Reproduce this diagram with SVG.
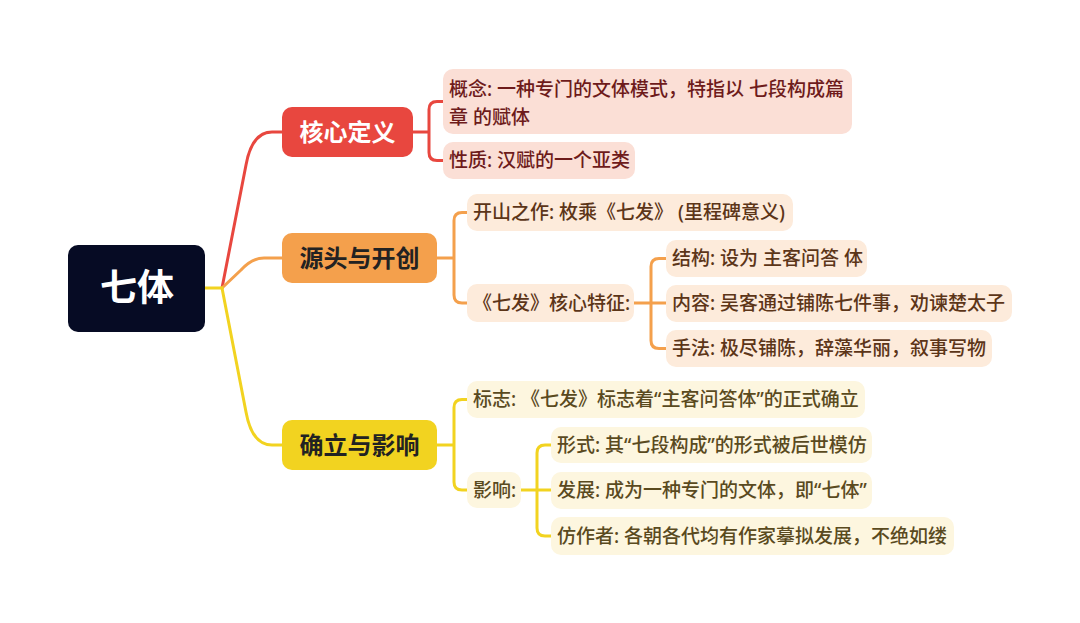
<svg xmlns="http://www.w3.org/2000/svg" width="1080" height="623" viewBox="0 0 1080 623">
<style>
text{font-family:"Noto Sans","Noto Sans CJK SC",sans-serif;}
.c{fill:none;stroke-width:3;stroke-linecap:round;stroke-linejoin:round;}
.cr{stroke:#E8473F;} .co{stroke:#F4A04C;} .cy{stroke:#F2D320;}
.main{font-size:24px;font-weight:bold;text-anchor:middle;}
.t{font-size:19px;font-weight:500;}
.br{fill:#FBDFD6;} .bo{fill:#FDEBDB;} .by{fill:#FDF6DF;}
.tr{fill:#6E1B1B;} .to{fill:#5C3518;} .ty{fill:#5A4A1E;}
</style>
<rect width="1080" height="623" fill="#FFFFFF"/>
<g id="connectors">
  <path class="c cr" d="M222,288 L246,165 Q252,132 272,132 L282,132"/>
  <path class="c co" d="M222,288 L241,270 Q252,258 264,258 L282,258"/>
  <path class="c cy" d="M222,288 L246,412 Q252,445 272,445 L282,445"/>
  <path class="c cy" d="M205,288 L222,288"/>
  <path class="c cr" d="M413,132 H429 M443,101.5 H437 Q429,101.5 429,109.5 V152.5 Q429,160.5 437,160.5 H443"/>
  <path class="c co" d="M437,258 H454 M467,212.5 H462 Q454,212.5 454,220.5 V295 Q454,303 462,303 H467"/>
  <path class="c co" d="M634,303 H666 M666,258.5 H659 Q651,258.5 651,266.5 V340.5 Q651,348.5 659,348.5 H666"/>
  <path class="c cy" d="M437,445 H454 M467,399.5 H462 Q454,399.5 454,407.5 V482 Q454,490 462,490 H467"/>
  <path class="c cy" d="M521,490 H551 M551,445 H545 Q537,445 537,453 V528 Q537,536 545,536 H551"/>
</g>
<g id="root">
  <rect x="68" y="245" width="137" height="87" rx="10" fill="#060B24"/>
  <text x="137" y="301" font-size="37" font-weight="bold" fill="#FFFFFF" text-anchor="middle">七体</text>
</g>
<g id="n-core">
  <rect x="282" y="107" width="131" height="50" rx="10" fill="#E8473F"/>
  <text class="main" x="347.5" y="141" fill="#FFFFFF">核心定义</text>
</g>
<g id="n-origin">
  <rect x="282" y="233" width="155" height="50" rx="10" fill="#F4A04C"/>
  <text class="main" x="359.5" y="267" fill="#222222">源头与开创</text>
</g>
<g id="n-establish">
  <rect x="282" y="420" width="155" height="50" rx="10" fill="#F2D320"/>
  <text class="main" x="359.5" y="454" fill="#222222">确立与影响</text>
</g>
<g id="n-concept">
  <rect class="br" x="443" y="69" width="409" height="65" rx="10"/>
  <text class="t tr" x="449" y="96">概念: 一种专门的文体模式，特指以 七段构成篇</text>
  <text class="t tr" x="449" y="124">章 的赋体</text>
</g>
<g id="n-nature">
  <rect class="br" x="443" y="142" width="192" height="37" rx="10"/>
  <text class="t tr" x="449" y="167">性质: 汉赋的一个亚类</text>
</g>
<g id="n-first">
  <rect class="bo" x="467" y="194" width="326" height="37" rx="10"/>
  <text class="t to" x="473" y="219">开山之作: 枚乘《七发》 (里程碑意义)</text>
</g>
<g id="n-features">
  <rect class="bo" x="467" y="284" width="167" height="38" rx="10"/>
  <text class="t to" x="473" y="310">《七发》核心特征:</text>
</g>
<g id="n-structure">
  <rect class="bo" x="666" y="240" width="201" height="37" rx="10"/>
  <text class="t to" x="672" y="265">结构: 设为 主客问答 体</text>
</g>
<g id="n-content">
  <rect class="bo" x="666" y="285" width="346" height="37" rx="10"/>
  <text class="t to" x="672" y="310">内容: 吴客通过铺陈七件事，劝谏楚太子</text>
</g>
<g id="n-method">
  <rect class="bo" x="666" y="330" width="326" height="37" rx="10"/>
  <text class="t to" x="672" y="355">手法: 极尽铺陈，辞藻华丽，叙事写物</text>
</g>
<g id="n-mark">
  <rect class="by" x="467" y="381" width="398" height="37" rx="10"/>
  <text class="t ty" x="473" y="406">标志: 《七发》标志着“主客问答体”的正式确立</text>
</g>
<g id="n-influence">
  <rect class="by" x="467" y="472" width="54" height="36" rx="10"/>
  <text class="t ty" x="473" y="497">影响:</text>
</g>
<g id="n-form">
  <rect class="by" x="551" y="427" width="321" height="36" rx="10"/>
  <text class="t ty" x="557" y="452">形式: 其“七段构成”的形式被后世模仿</text>
</g>
<g id="n-develop">
  <rect class="by" x="551" y="472" width="321" height="37" rx="10"/>
  <text class="t ty" x="557" y="497">发展: 成为一种专门的文体，即“七体”</text>
</g>
<g id="n-imitators">
  <rect class="by" x="551" y="517" width="403" height="38" rx="10"/>
  <text class="t ty" x="557" y="543">仿作者: 各朝各代均有作家摹拟发展，不绝如缕</text>
</g>
</svg>
